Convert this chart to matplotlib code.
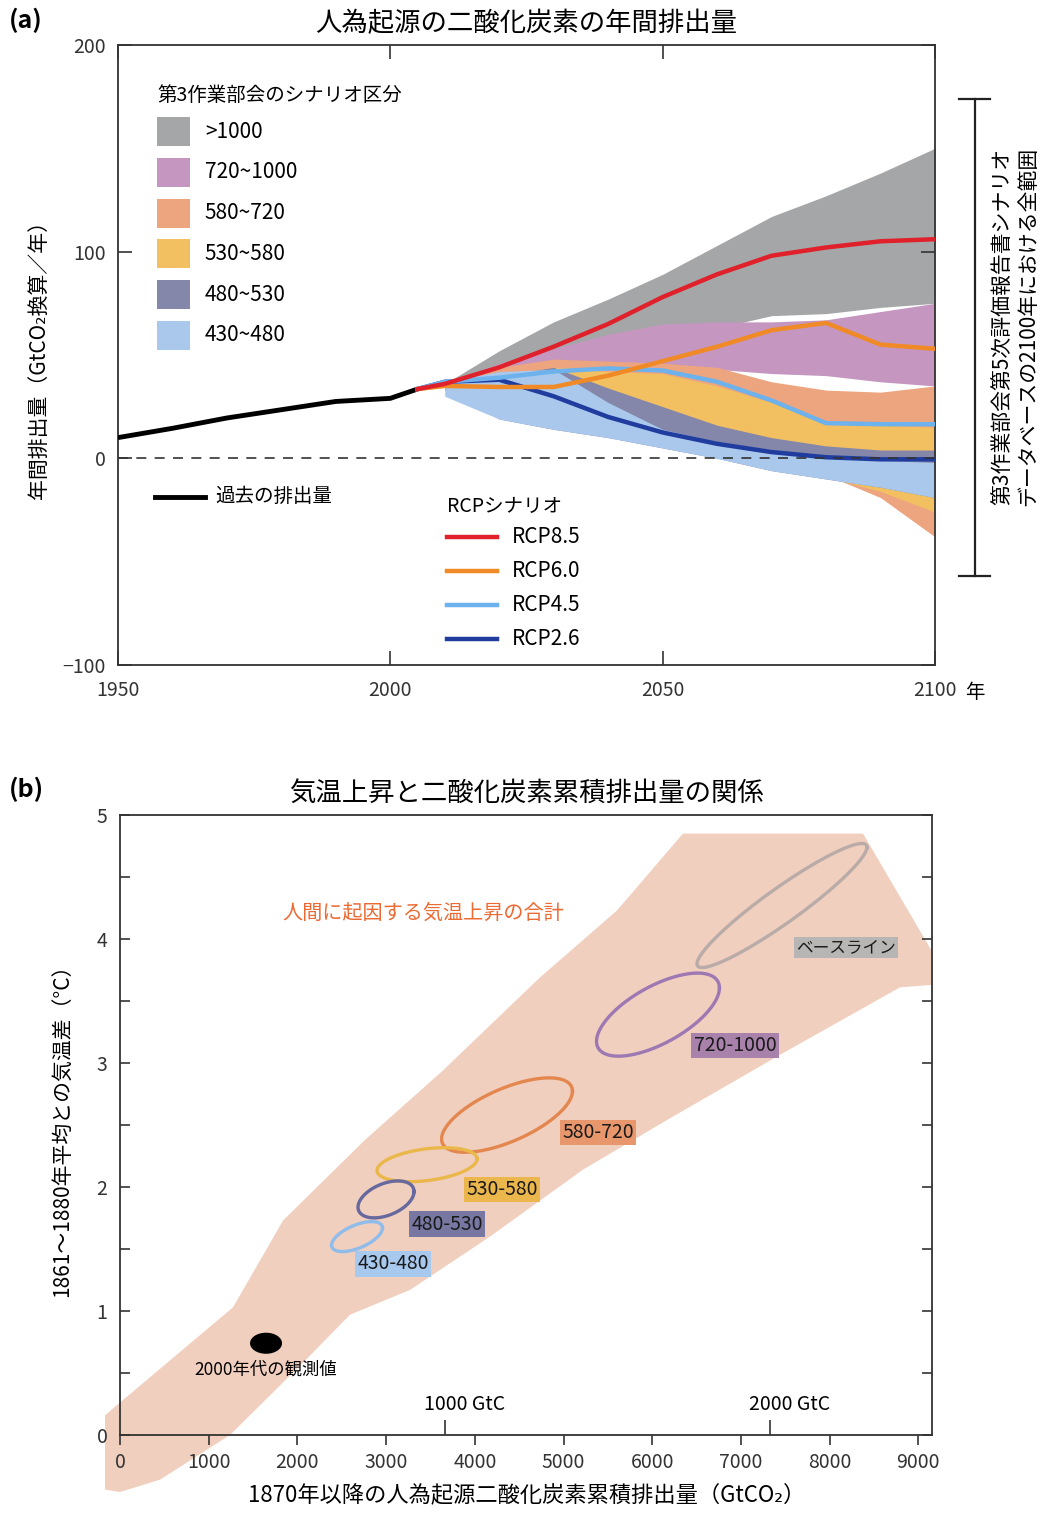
import numpy as np
import matplotlib.pyplot as plt
from matplotlib.patches import Polygon, Ellipse, Rectangle
from matplotlib.ticker import MultipleLocator

plt.rcParams['font.family'] = ['Noto Sans CJK JP', 'DejaVu Sans']
plt.rcParams['axes.linewidth'] = 1.3
plt.rcParams['axes.edgecolor'] = '#333333'
plt.rcParams['xtick.color'] = '#333333'
plt.rcParams['ytick.color'] = '#333333'

# ---------------- (a) annual emissions ----------------
hist_years = [1950, 1960, 1970, 1980, 1990, 2000, 2005]
hist_emis = [10, 14.5, 19.5, 23.5, 27.5, 29, 33.5]

rcp_years = [2005, 2010, 2020, 2030, 2040, 2050, 2060, 2070, 2080, 2090, 2100]
rcp85 = [33.5, 36, 44, 54, 65, 78, 89, 98, 102, 105, 106]
rcp60 = [33.5, 35, 34.5, 34.5, 40, 47, 54, 62, 65.5, 55, 53]
rcp45 = [33.5, 37, 39, 42, 43.5, 42.5, 37, 28, 17, 16.5, 16.5]
rcp26 = [33.5, 37, 38, 30, 20, 12.5, 7, 3, 0.5, -0.5, -0.5]
rcp_labels = ['RCP8.5', 'RCP6.0', 'RCP4.5', 'RCP2.6']
rcp_colors = ['#e0202a', '#ef8a26', '#6db2ec', '#1f3c9e']

band_years = [2010, 2020, 2030, 2040, 2050, 2060, 2070, 2080, 2090, 2100]
hi_1000 = [36, 52, 66, 77, 89, 103, 117, 127, 138, 150]
lo_1000 = [34, 40, 46, 52, 58, 63, 69, 70, 73, 75]
hi_720 = [36, 46, 53, 60, 65, 66, 66, 67, 71, 75]
lo_720 = [34, 38, 42, 44, 44, 43, 41, 40, 37, 35]
hi_580 = [36, 44, 48, 47, 46, 44, 37, 33, 32, 35]
lo_580 = [33, 30, 25, 18, 12, 6, 0, -8, -19, -38]
hi_530 = [36, 40, 44, 42, 41, 35, 27, 18, 16, 15]
lo_530 = [33, 30, 25, 18, 12, 6, 0, -9, -16, -26]
hi_480 = [36, 40, 44, 34, 25, 16, 10, 6, 4, 4]
lo_480 = [33, 19, 14, 10, 5, 0, -6, -10, -14, -19]
hi_430 = [37, 42, 43, 27, 14, 8, 4, 1, -1, -2]
lo_430 = [30, 19, 14, 10, 5, 0, -6, -10, -14, -19]

cat_labels = ['>1000', '720~1000', '580~720', '530~580', '480~530', '430~480']
cat_colors = ['#a4a6a8', '#c597c0', '#eda57f', '#f2c060', '#8486aa', '#a9c8ec']
bands = [(lo_1000, hi_1000), (lo_720, hi_720), (lo_580, hi_580),
         (lo_530, hi_530), (lo_480, hi_480), (lo_430, hi_430)]

db_range = (174, -57)  # AR5 WGIII database range in 2100

# ---------------- (b) warming vs cumulative CO2 ----------------
plume_x = [-169, -169, 1274, 1838, 2762, 3641, 4735, 5603, 6347, 8377, 9155, 9155,
           8794, 7475, 6167, 5220, 4171, 3269, 2593, 2086, 1240, 451, 0]
plume_y = [-0.44, 0.16, 1.03, 1.73, 2.38, 2.94, 3.69, 4.23, 4.85, 4.85, 3.9, 3.63,
           3.61, 3.08, 2.54, 2.14, 1.60, 1.17, 0.97, 0.60, 0.0, -0.36, -0.46]

ell_labels = ['ベースライン', '720-1000', '580-720', '530-580', '480-530', '430-480']
ell_cx = [7463, 6065, 4363, 3461, 2999, 2672]
ell_cy = [4.27, 3.39, 2.58, 2.18, 1.90, 1.60]
ell_ax = [958, 693, 738, 564, 316, 287]
ell_ay = [0.50, 0.335, 0.30, 0.137, 0.149, 0.121]
ell_phase = [20, 50, 50, 70, 65, 55]
ell_colors = ['#b9aba7', '#9d78b2', '#e3874f', '#eab84a', '#66689e', '#8fbcea']
box_colors = ['#b8b6b5', '#a882ab', '#e8966c', '#ebb64c', '#7777a2', '#a8c9ee']
lab_x = [8185, 6933, 5390, 4307, 3687, 3078]
lab_y = [3.93, 3.14, 2.44, 1.98, 1.70, 1.38]

obs_x, obs_y = 1646, 0.74
obs_w, obs_h = 361, 0.17
gtc_marks = [1000, 2000]

fig = plt.figure(figsize=(10.43, 15.13), dpi=100)

# ===== panel (a) =====
ax = fig.add_axes([0.1131, 0.5605, 0.7833, 0.4098])
for (lo, hi), col in zip(bands, cat_colors):
    ax.fill_between(band_years, lo, hi, color=col, lw=0, zorder=1)

ax.plot(hist_years, hist_emis, color='black', lw=3.5, zorder=3, solid_capstyle='butt')
for vals, col in zip([rcp26, rcp45, rcp60, rcp85], rcp_colors[::-1]):
    ax.plot(rcp_years, vals, color=col, lw=3.2, zorder=3)
ax.axhline(0, color='#333333', lw=1.2, dashes=(6, 5), zorder=4)

ax.set_xlim(1950, 2100)
ax.set_ylim(-100, 200)
ax.set_xticks([1950, 2000, 2050, 2100])
ax.set_yticks([-100, 0, 100, 200])
ax.tick_params(direction='in', length=10, width=1.2, top=True, right=True,
               labelsize=14, pad=9)
ax.tick_params(axis='x', pad=11)
ax.set_title('人為起源の二酸化炭素の年間排出量', fontsize=19, pad=10)
ax.set_ylabel('年間排出量（GtCO₂換算／年）', fontsize=15)
ax.yaxis.set_label_coords(-0.083, 0.5)
ax.text(1.049, -0.045, '年', transform=ax.transAxes, fontsize=14,
        ha='center', va='center')

# category legend
ax.text(0.048, 0.918, '第3作業部会のシナリオ区分', transform=ax.transAxes,
        fontsize=14, va='center')
for i, (lab, col) in enumerate(zip(cat_labels, cat_colors)):
    yc = 0.860 - i * 0.0657
    ax.add_patch(Rectangle((0.048, yc - 0.0234), 0.0404, 0.0468,
                           transform=ax.transAxes, color=col, lw=0))
    ax.text(0.1065, yc, lab, transform=ax.transAxes, fontsize=15, va='center')

# historical legend
ax.plot([0.045, 0.107], [0.271, 0.271], transform=ax.transAxes, color='black', lw=3.5)
ax.text(0.119, 0.271, '過去の排出量', transform=ax.transAxes, fontsize=14, va='center')

# RCP legend
ax.text(0.403, 0.255, 'RCPシナリオ', transform=ax.transAxes, fontsize=14, va='center')
for i, (lab, col) in enumerate(zip(rcp_labels, rcp_colors)):
    yc = 0.2065 - i * 0.0548
    ax.plot([0.403, 0.464], [yc, yc], transform=ax.transAxes, color=col, lw=3.2)
    ax.text(0.482, yc, lab, transform=ax.transAxes, fontsize=15, va='center')

# bracket for database range
btr = ax.get_yaxis_transform()
ax.plot([1.049, 1.049], db_range, transform=btr, color='#222222', lw=1.6, clip_on=False)
for v in db_range:
    ax.plot([1.029, 1.068], [v, v], transform=btr, color='#222222', lw=1.6, clip_on=False)
fig.text(0.974, 0.784, '第3作業部会第5次評価報告書シナリオ\nデータベースの2100年における全範囲',
         rotation=90, fontsize=15, ha='center', va='center', linespacing=1.15)

# ===== panel (b) =====
ax2 = fig.add_axes([0.1151, 0.05155, 0.7785, 0.4098])
ax2.add_patch(Polygon(np.column_stack([plume_x, plume_y]), closed=True,
                      fc='#f1cfbf', ec='none', zorder=0, clip_on=False))

t = np.linspace(0, 2 * np.pi, 300)
for i in range(len(ell_labels)):
    ph = np.deg2rad(ell_phase[i])
    ex = ell_cx[i] + ell_ax[i] * np.cos(t)
    ey = ell_cy[i] + ell_ay[i] * np.cos(t - ph)
    ax2.plot(ex, ey, color=ell_colors[i], lw=2.4, zorder=2)
    fs = 12 if i == 0 else 14
    ax2.text(lab_x[i], lab_y[i], ell_labels[i], fontsize=fs, ha='center', va='center',
             color='#1a1a1a', zorder=3,
             bbox=dict(boxstyle='square,pad=0.12', fc=box_colors[i], ec='none'))

ax2.add_patch(Ellipse((obs_x, obs_y), obs_w, obs_h, fc='black', ec='none', zorder=3))
ax2.text(obs_x, obs_y - 0.21, '2000年代の観測値', fontsize=12.5, ha='center', va='center')
ax2.text(3416, 4.21, '人間に起因する気温上昇の合計', fontsize=14.5, color='#ec6a33',
         ha='center', va='center')

ax2.set_xlim(0, 9155)
ax2.set_ylim(0, 5)
ax2.set_xticks(np.arange(0, 9001, 1000))
ax2.set_yticks(np.arange(0, 6, 1))
ax2.yaxis.set_minor_locator(MultipleLocator(0.5))
ax2.tick_params(axis='x', direction='out', length=7, width=1.2, labelsize=14, pad=5)
ax2.tick_params(axis='y', which='both', direction='in', length=7, width=1.2,
                left=True, right=True, labelsize=14, pad=9)
ax2.set_title('気温上昇と二酸化炭素累積排出量の関係', fontsize=19, pad=10)
ax2.set_ylabel('1861～1880年平均との気温差（°C）', fontsize=15)
ax2.yaxis.set_label_coords(-0.058, 0.5)
ax2.set_xlabel('1870年以降の人為起源二酸化炭素累積排出量（GtCO₂）', fontsize=16)
ax2.xaxis.set_label_coords(0.501, -0.078)

# carbon (GtC) marks on the bottom axis
sec = ax2.secondary_xaxis(0, functions=(lambda x: x * 12 / 44, lambda x: x * 44 / 12))
sec.set_xticks(gtc_marks, ['' for g in gtc_marks])
sec.tick_params(direction='in', length=11, width=1.2)
sec.spines['bottom'].set_visible(False)
for g in gtc_marks:
    ax2.annotate(f'{g} GtC', xy=(g * 44 / 12, 0), xycoords=('data', 'axes fraction'),
                 xytext=(14, 22), textcoords='offset points', ha='center', va='center',
                 fontsize=14)

fig.text(0.025, 0.9868, '(a)', fontsize=18, fontweight='bold', ha='center', va='center')
fig.text(0.025, 0.4779, '(b)', fontsize=18, fontweight='bold', ha='center', va='center')

fig.savefig('out.png', dpi=100)
